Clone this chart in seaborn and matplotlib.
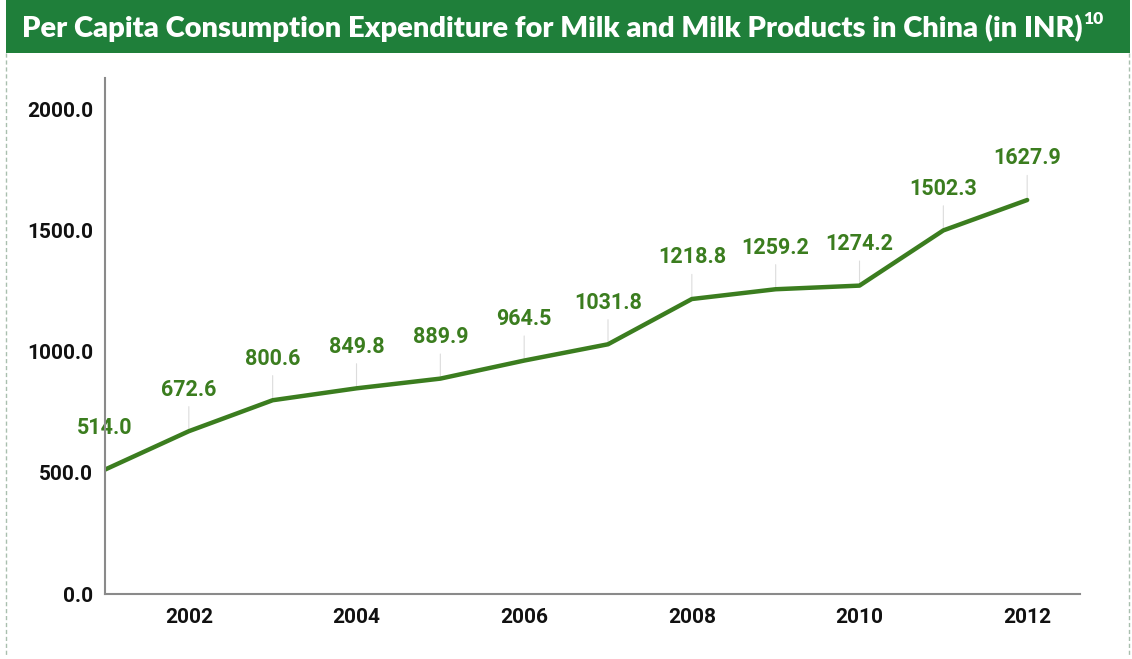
import matplotlib
matplotlib.use("Agg")
import matplotlib.pyplot as plt
from matplotlib.lines import Line2D
from matplotlib.patches import Rectangle
import seaborn as sns
import pandas as pd

years = [2001, 2002, 2003, 2004, 2005, 2006, 2007, 2008, 2009, 2010, 2011, 2012]
expenditure = [514.0, 672.6, 800.6, 849.8, 889.9, 964.5, 1031.8, 1218.8, 1259.2, 1274.2, 1502.3, 1627.9]
y_ticks = [0, 500, 1000, 1500, 2000]
x_ticks = [2002, 2004, 2006, 2008, 2010, 2012]
title_text = "Per Capita Consumption Expenditure for Milk and Milk Products in China (in INR)"
title_note = "10"

GREEN = "#3b7d1f"
BANNER = "#1f7f3a"

sns.set_theme(style="white")
plt.rcParams["font.family"] = ["Roboto", "DejaVu Sans"]

df = pd.DataFrame({"year": years, "value": expenditure})

W, H = 1132, 659
fig = plt.figure(figsize=(W / 100, H / 100), dpi=100)
fig.patch.set_facecolor("white")

# title banner
fig.add_artist(Rectangle((6 / W, 1 - 53 / H), 1124 / W, 53 / H,
                         transform=fig.transFigure, facecolor=BANNER,
                         edgecolor="none", zorder=0))
t = fig.text(22 / W, 1 - 28 / H, title_text, color="white", fontsize=21,
             fontweight="heavy", family=["Lato", "DejaVu Sans"], va="center", ha="left")
fig.canvas.draw()
bb = t.get_window_extent()
fig.text((bb.x1 + 1) / W, 1 - 19 / H, title_note, color="white", fontsize=12.5,
         fontweight="heavy", family=["Lato", "DejaVu Sans"], va="center", ha="left")

# dashed frame below the banner
frame_kw = dict(transform=fig.transFigure, color="#a9bfae", lw=1.0,
                linestyle=(0, (3, 2)))
fig.add_artist(Line2D([6 / W, 6 / W], [1 - 53 / H, 1 - 657 / H], **frame_kw))
fig.add_artist(Line2D([1129 / W, 1129 / W], [1 - 53 / H, 1 - 657 / H], **frame_kw))

ax = fig.add_axes([105 / W, 1 - 594 / H, (1080 - 105) / W, (594 - 78) / H])
sns.lineplot(data=df, x="year", y="value", ax=ax, color=GREEN, linewidth=3.2)

ax.set_xlim(2001, 2012.63)
ax.set_ylim(0, 2132)
ax.set_yticks(y_ticks)
ax.set_yticklabels([f"{v:.1f}" for v in y_ticks])
ax.set_xticks(x_ticks)
ax.set_xticklabels([str(v) for v in x_ticks])
ax.tick_params(axis="both", length=0, labelsize=15, labelcolor="#111111")
ax.tick_params(axis="x", pad=10)
ax.tick_params(axis="y", pad=8.5)
for lab in ax.get_xticklabels() + ax.get_yticklabels():
    lab.set_fontweight("bold")
ax.set_xlabel("")
ax.set_ylabel("")
for side in ["top", "right"]:
    ax.spines[side].set_visible(False)
for side in ["left", "bottom"]:
    ax.spines[side].set_color("#8a8a8a")
    ax.spines[side].set_linewidth(1.5)

for x, y in zip(years, expenditure):
    ax.annotate(f"{y:.1f}", xy=(x, y), xytext=(0, 30), textcoords="offset points",
                ha="center", va="center", color=GREEN, fontsize=15.5, fontweight="bold",
                arrowprops=dict(arrowstyle="-", color="#dcdcdc", lw=0.8,
                                shrinkA=2, shrinkB=0),
                annotation_clip=False, zorder=1)

fig.savefig("out.png", dpi=100)
